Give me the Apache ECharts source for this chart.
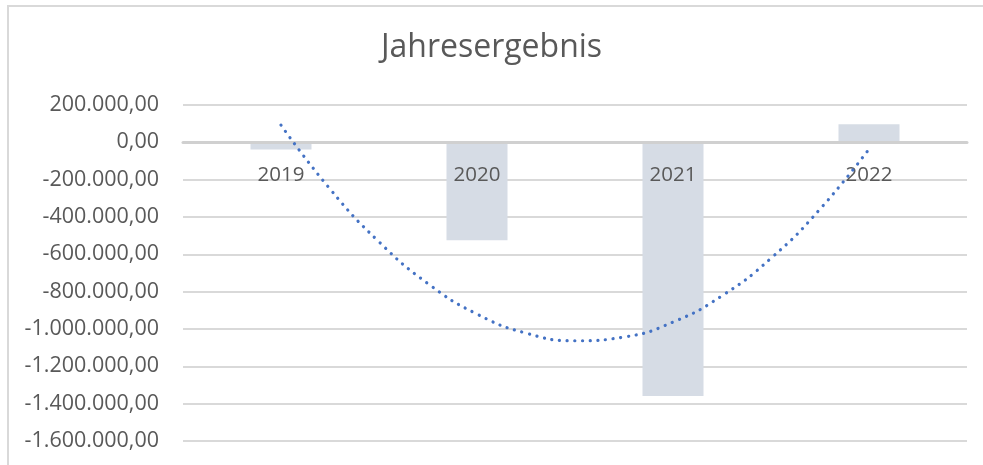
<!DOCTYPE html>
<html>
<head>
<meta charset="utf-8">
<title>Jahresergebnis</title>
<script src="https://cdn.jsdelivr.net/npm/echarts@6/dist/echarts.min.js"></script>
<style>
	html, body {margin: 0; padding: 0; background: #fff;}
	#main {width: 983px; height: 465px;}
</style>
</head>
<body>
<div id="main"></div>
<script>
var years = ['2019', '2020', '2021', '2022'];
var results = [-38000, -524000, -1359000, 96500];

// Trendlinie (Polynom), Punkte
var trendX = [1, 1.25, 1.5, 1.75, 2, 2.25, 2.5, 2.75, 3, 3.25, 3.5, 3.75, 4];
var trendY = [92000, -250000, -533000, -757000, -920000, -1022000, -1063000, -1043000, -963000, -822000, -621000, -358000, -36000];

var yMin = -1600000, yMax = 200000, yStep = 200000;

var gridTop = 105, gridBottom = 24, chartH = 465;

function formatDE(v){
	var neg = v < 0;
	var s = Math.abs(Math.round(v)).toString().replace(/\B(?=(\d{3})+(?!\d))/g, '.');
	return (neg ? '-' : '') + s + ',00';
}

var trendData = [];
for(var i = 0; i < trendX.length; i++){
	trendData.push([trendX[i], trendY[i]]);
}

// Abstand oberer Rand -> Nulllinie (Kategorieachse sitzt auf 0)
var plotH = chartH - gridTop - gridBottom;
var zeroOffset = plotH * (yMax - 0) / (yMax - yMin);

var txtColor = '#595959';
var font = '"Open Sans", sans-serif';

var opt = {
	animation: false,
	title: {
		text: 'Jahresergebnis',
		left: 'center',
		top: 32,
		padding: 0,
		textStyle: {fontFamily: font, fontSize: 32, fontWeight: 'normal', color: txtColor}
	},
	graphic: [{
		type: 'rect',
		shape: {x: 8, y: 6, width: 1000, height: 500},
		style: {fill: 'none', stroke: '#d9d9d9', lineWidth: 2},
		silent: true
	}],
	grid: {left: 183, right: 16, top: gridTop, bottom: gridBottom, containLabel: false, outerBoundsMode: 'none'},
	xAxis: [{
		type: 'category',
		data: years,
		position: 'top',
		offset: -zeroOffset,
		z: 3,
		axisLine: {onZero: false, lineStyle: {color: '#d0d0d0', width: 3}},
		axisTick: {show: false},
		axisLabel: {inside: true, fontFamily: font, fontSize: 20.5, color: txtColor, margin: 22}
	}, {
		type: 'value',
		min: 0.5,
		max: 4.5,
		show: false
	}],
	yAxis: {
		type: 'value',
		min: yMin,
		max: yMax,
		interval: yStep,
		axisLine: {show: false},
		axisTick: {show: false},
		splitLine: {lineStyle: {color: '#d9d9d9', width: 2}},
		axisLabel: {
			fontFamily: font, fontSize: 21.5, color: txtColor, margin: 24,
			formatter: formatDE
		}
	},
	series: [{
		name: 'Jahresergebnis',
		type: 'bar',
		data: results,
		barWidth: 61,
		itemStyle: {color: '#d6dce5'}
	}, {
		name: 'Trend',
		type: 'line',
		xAxisIndex: 1,
		data: trendData,
		smooth: true,
		symbol: 'none',
		z: 5,
		lineStyle: {color: '#4472c4', width: 3.2, type: [0.1, 7.6], cap: 'round'}
	}]
};

var chart = echarts.init(document.getElementById('main'));
chart.setOption(opt);
</script>
</body>
</html>
